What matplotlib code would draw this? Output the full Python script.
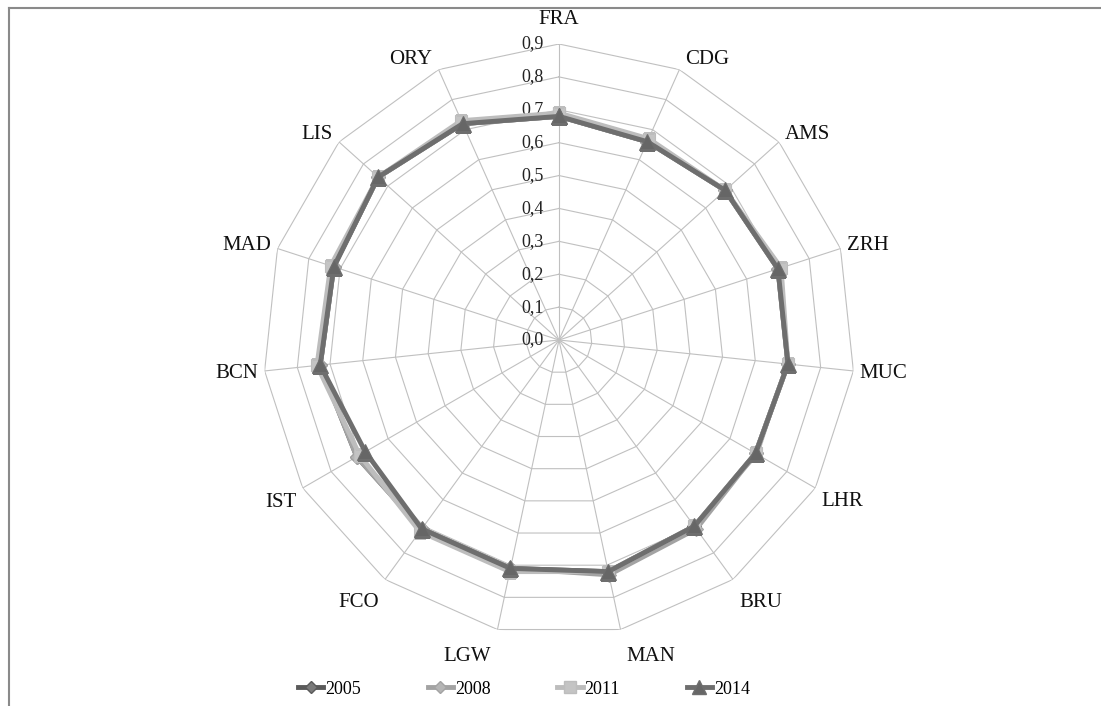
import numpy as np
import matplotlib
matplotlib.use("Agg")
import matplotlib.pyplot as plt
from matplotlib.lines import Line2D

plt.rcParams["font.family"] = ["Liberation Serif", "DejaVu Serif"]

# ──────────────────────────────────────────────
# 데이터
# ──────────────────────────────────────────────
airports = ["FRA", "CDG", "AMS", "ZRH", "MUC", "LHR", "BRU", "MAN",
            "LGW", "FCO", "IST", "BCN", "MAD", "LIS", "ORY"]
years = ["2005", "2008", "2011", "2014"]

v2005 = [0.68, 0.66, 0.68, 0.70, 0.70, 0.69, 0.70, 0.72, 0.71, 0.71, 0.71, 0.73, 0.72, 0.74, 0.72]
v2008 = [0.68, 0.66, 0.68, 0.70, 0.70, 0.69, 0.71, 0.73, 0.71, 0.71, 0.71, 0.73, 0.72, 0.74, 0.72]
v2011 = [0.69, 0.67, 0.68, 0.71, 0.70, 0.69, 0.70, 0.72, 0.72, 0.72, 0.70, 0.74, 0.73, 0.74, 0.73]
v2014 = [0.68, 0.66, 0.68, 0.70, 0.70, 0.69, 0.70, 0.72, 0.71, 0.71, 0.68, 0.73, 0.72, 0.74, 0.72]

r_ticks = [0.0, 0.1, 0.2, 0.3, 0.4, 0.5, 0.6, 0.7, 0.8, 0.9]
r_tick_labels = ["0,0", "0,1", "0,2", "0,3", "0,4", "0,5", "0,6", "0,7", "0,8", "0,9"]

series = [v2005, v2008, v2011, v2014]
line_colors = ["#5a5a5a", "#a3a3a3", "#bdbdbd", "#6e6e6e"]
marker_faces = ["#7a7a7a", "#b5b5b5", "#c4c4c4", "#666666"]
markers = ["D", "D", "s", "^"]
msizes = [7, 7, 9, 11]

GRID = "#c0c0c0"

fig = plt.figure(figsize=(11.01, 7.06), dpi=100)
W, H = 1101, 706
cx, cy, R = 559, 340, 296
ax = fig.add_axes([(cx - R) / W, (H - cy - R) / H, 2 * R / W, 2 * R / H], projection="polar")
ax.set_theta_offset(np.pi / 2)
ax.set_theta_direction(-1)
ax.set_ylim(0, 0.9)
ax.grid(False)
ax.set_xticks([])
ax.set_yticks([])
ax.spines["polar"].set_visible(False)
ax.patch.set_alpha(0)

n = len(airports)
theta = np.arange(n) * 2 * np.pi / n
theta_c = np.append(theta, theta[0])

# 다각형 그리드 + 스포크
for r in r_ticks[1:]:
    ax.plot(theta_c, [r] * (n + 1), color=GRID, lw=0.8, zorder=1)
for t in theta:
    ax.plot([t, t], [0, 0.9], color=GRID, lw=0.8, zorder=1)

# 반경 눈금 라벨
for r, lab in zip(r_ticks, r_tick_labels):
    ax.annotate(lab, xy=(0, r), xytext=(-15, 0), textcoords="offset pixels",
                ha="right", va="center", fontsize=13, color="#222222", zorder=2)

# 공항 라벨 (Excel 방식: 꼭짓점 바깥쪽 모서리에 붙임)
for t, name in zip(theta, airports):
    s, c = np.sin(t), np.cos(t)
    if abs(s) < 0.15:
        ha, dx = "center", 0
    elif s > 0:
        ha, dx = "left", 6
    else:
        ha, dx = "right", -6
    if c > 0.95:
        dy = 24
    elif c > 0:
        dy = 11 * c
    else:
        dy = 28 * c
    ax.annotate(name, xy=(t, 0.9), xytext=(dx, dy), textcoords="offset pixels",
                ha=ha, va="center", fontsize=15, color="#111111",
                annotation_clip=False)

# 시리즈
for vals, lc, mf, mk, ms, yr in zip(series, line_colors, marker_faces, markers, msizes, years):
    vv = np.append(vals, vals[0])
    ax.plot(theta_c, vv, color=lc, lw=3.5, marker=mk, ms=ms, markerfacecolor=mf,
            markeredgecolor=lc, markeredgewidth=0.8, zorder=3, label=yr,
            solid_joinstyle="round")

handles = [Line2D([0], [0], color=lc, lw=3.5, marker=mk, ms=ms * 0.9,
                  markerfacecolor=mf, markeredgecolor=lc)
           for lc, mf, mk, ms in zip(line_colors, marker_faces, markers, msizes)]
fig.legend(handles, years, loc="center", bbox_to_anchor=(524 / W, (H - 689) / H),
           ncol=4, frameon=False, fontsize=13, handlelength=1.4,
           handletextpad=0.1, columnspacing=3.7)

# 외곽 테두리 (위/왼쪽)
fig.add_artist(Line2D([8.5 / W, 1], [1 - 7.5 / H, 1 - 7.5 / H], color="#8a8a8a", lw=1.5))
fig.add_artist(Line2D([8.5 / W, 8.5 / W], [0, 1 - 7.5 / H], color="#8a8a8a", lw=1.5))

fig.savefig("out.png", dpi=100)
